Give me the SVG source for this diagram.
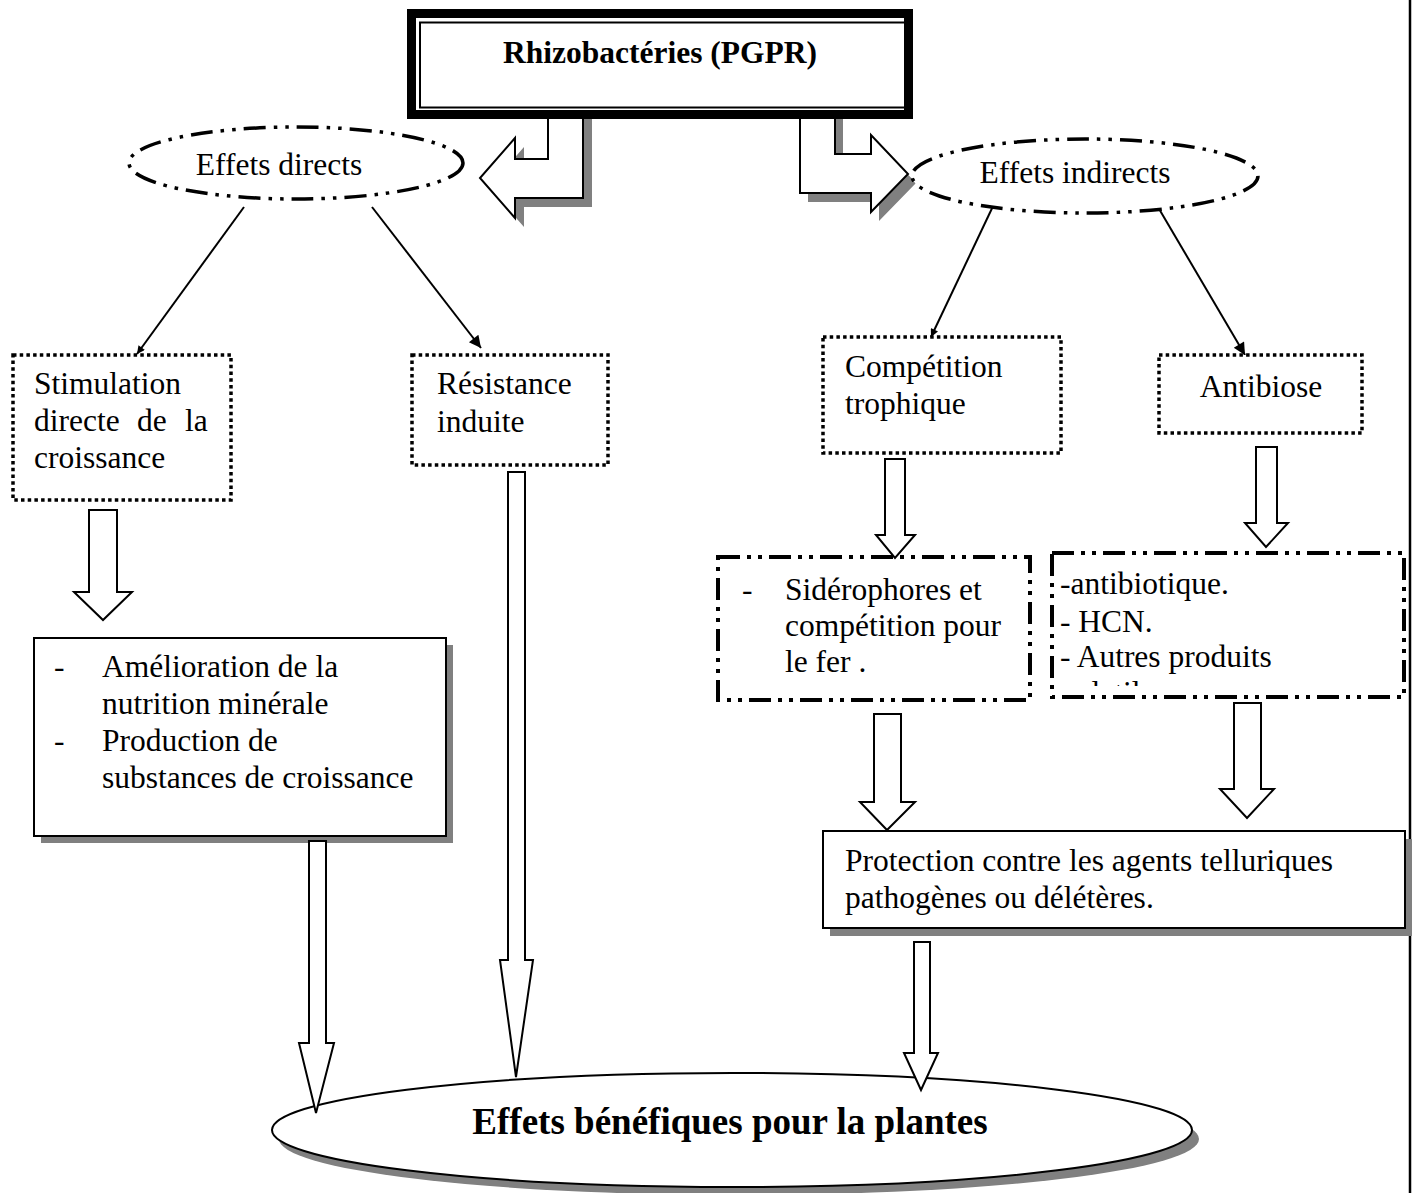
<svg xmlns="http://www.w3.org/2000/svg" width="1413" height="1193" viewBox="0 0 1413 1193">
<defs>
<style>
text{font-family:"Liberation Serif","Times New Roman",serif;font-size:31.5px;fill:#000}
.b{font-weight:bold}
.dot{fill:#fff;stroke:#000;stroke-width:3.5;stroke-dasharray:3.5 3.2}
.dd{fill:#fff;stroke:#000;stroke-width:4;stroke-dasharray:22 7 4 7 4 7}
.de{fill:#fff;stroke:#000;stroke-width:3.5;stroke-dasharray:22 8 3.5 8 3.5 8}
.solid{fill:#fff;stroke:#000;stroke-width:2}
.sh{fill:#808080;stroke:none}
.blk{fill:#fff;stroke:#000;stroke-width:2;stroke-linejoin:miter}
.ln{fill:none;stroke:#000;stroke-width:2}
</style>
<marker id="ms" viewBox="0 0 10 10" refX="10" refY="5" markerWidth="9" markerHeight="8" markerUnits="userSpaceOnUse" orient="auto"><path d="M0,0 L10,5 L0,10 z" fill="#000"/></marker>
<marker id="ml" viewBox="0 0 10 10" refX="10" refY="5" markerWidth="16" markerHeight="12" markerUnits="userSpaceOnUse" orient="auto"><path d="M0,0 L10,5 L0,10 z" fill="#000"/></marker>
<clipPath id="clipR"><rect x="1052" y="553" width="354" height="133"/></clipPath>
</defs>
<rect width="1413" height="1193" fill="#fff"/>
<line x1="1410" y1="0" x2="1410" y2="1193" stroke="#000" stroke-width="2.5"/>

<g id="connectors">
<g id="bent-left">
<polygon class="sh" transform="translate(9,9)" points="548,110 548,159 515,159 515,138 480,178 515,218 515,198 583,198 583,110"/>
<polygon class="blk" points="548,110 548,159 515,159 515,138 480,178 515,218 515,198 583,198 583,110"/>
</g>
<g id="bent-right">
<polygon class="sh" transform="translate(8,9)" points="800,110 800,193 871,193 871,212 908,174 871,135 871,154 835,154 835,110"/>
<polygon class="blk" points="800,110 800,193 871,193 871,212 908,174 871,135 871,154 835,154 835,110"/>
</g>
<line class="ln" x1="244" y1="207" x2="137" y2="354" marker-end="url(#ms)"/>
<line class="ln" x1="372" y1="207" x2="481" y2="348" marker-end="url(#ml)"/>
<line class="ln" x1="995" y1="202" x2="931" y2="337" marker-end="url(#ms)"/>
<line class="ln" x1="1155" y1="202" x2="1245" y2="355" marker-end="url(#ml)"/>
</g>

<g id="top-box">
<rect x="411.5" y="13.5" width="497" height="101" fill="#fff" stroke="#000" stroke-width="9"/>
<rect x="420" y="22.5" width="486" height="85" fill="none" stroke="#000" stroke-width="2"/>
<text class="b" x="660" y="63" text-anchor="middle">Rhizobactéries (PGPR)</text>
</g>

<g id="effets-directs">
<ellipse class="de" cx="296" cy="163" rx="167" ry="36"/>
<text x="279" y="175" text-anchor="middle">Effets directs</text>
</g>

<g id="effets-indirects">
<ellipse class="de" cx="1085" cy="176" rx="173" ry="37"/>
<text x="1075" y="183" text-anchor="middle">Effets indirects</text>
</g>

<g id="stimulation">
<rect class="dot" x="13" y="355" width="218" height="145"/>
<text x="34" y="394">Stimulation</text>
<text y="431"><tspan x="34">directe</tspan><tspan x="137">de</tspan><tspan x="185">la</tspan></text>
<text x="34" y="468">croissance</text>
</g>

<g id="resistance">
<rect class="dot" x="412" y="355" width="196" height="110"/>
<text x="437" y="394">Résistance</text>
<text x="437" y="432">induite</text>
</g>

<g id="competition">
<rect class="dot" x="823" y="337" width="238" height="116"/>
<text x="845" y="377">Compétition</text>
<text x="845" y="414">trophique</text>
</g>

<g id="antibiose">
<rect class="dot" x="1159" y="355" width="203" height="78"/>
<text x="1261" y="397" text-anchor="middle">Antibiose</text>
</g>

<g id="amelioration">
<rect class="sh" x="41" y="645" width="412" height="198"/>
<rect class="solid" x="34" y="638" width="412" height="198"/>
<text x="54" y="677">-</text>
<text x="102" y="677">Amélioration de la</text>
<text x="102" y="714">nutrition minérale</text>
<text x="54" y="751">-</text>
<text x="102" y="751">Production de</text>
<text x="102" y="788">substances de croissance</text>
</g>

<g id="siderophores">
<rect class="dd" x="718" y="557" width="312" height="143"/>
<text x="742" y="600">-</text>
<text x="785" y="600">Sidérophores et</text>
<text x="785" y="636">compétition pour</text>
<text x="785" y="672">le fer .</text>
</g>

<g id="antibiotiques">
<rect class="dd" x="1052" y="553" width="352" height="144"/>
<g clip-path="url(#clipR)">
<text x="1060" y="594">-antibiotique.</text>
<text x="1060" y="632">- HCN.</text>
<text x="1060" y="667">- Autres produits</text>
<text x="1060" y="703">volatils.</text>
</g>
</g>

<g id="protection">
<rect class="sh" x="830" y="839" width="582" height="97"/>
<rect class="solid" x="823" y="831" width="582" height="97"/>
<text x="845" y="871">Protection contre les agents telluriques</text>
<text x="845" y="908">pathogènes ou délétères.</text>
</g>

<g id="effets-benefiques">
<ellipse class="sh" cx="739" cy="1139" rx="460" ry="56"/>
<ellipse class="solid" cx="732" cy="1130" rx="460" ry="57"/>
<text class="b" x="730" y="1134" text-anchor="middle" style="font-size:37px">Effets bénéfiques pour la plantes</text>
</g>

<g id="block-arrows">
<polygon class="blk" points="89,510 117,510 117,592 132,592 103,620 74,592 89,592"/>
<polygon class="blk" points="508,472 525,472 525,960 533,960 516,1077 500,960 508,960"/>
<polygon class="blk" points="309,841 326,841 326,1043 334,1043 316,1113 299,1043 309,1043"/>
<polygon class="blk" points="885,459 905,459 905,535 915,535 895,558 876,535 885,535"/>
<polygon class="blk" points="1256,447 1277,447 1277,523 1288,523 1266,547 1245,523 1256,523"/>
<polygon class="blk" points="874,714 901,714 901,802 915,802 887,830 860,802 874,802"/>
<polygon class="blk" points="1234,703 1261,703 1261,789 1274,789 1247,818 1220,789 1234,789"/>
<polygon class="blk" points="914,942 930,942 930,1053 938,1053 921,1090 904,1053 914,1053"/>
</g>
</svg>
